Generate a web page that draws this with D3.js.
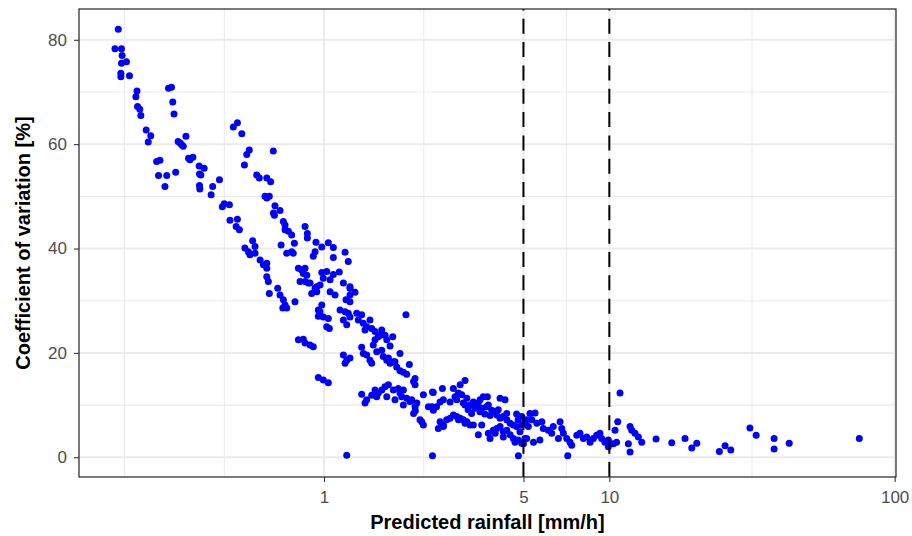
<!DOCTYPE html>
<html>
<head>
<meta charset="utf-8">
<script src="https://cdn.jsdelivr.net/npm/d3@7"></script>
<style>
  body { margin: 0; background: #fff; }
  svg text { font-family: "Liberation Sans", Arial, Helvetica, sans-serif; }
</style>
</head>
<body>
<div id="chart"></div>
<script>
const w = 912, h = 536;
const m = {l: 79, r: 16, t: 9, b: 59};

// [predicted rainfall (mm/h), coefficient of variation (%)]
const below07 = [
  [0.19,82.0],[0.185,78.3],[0.195,78.3],[0.196,77.0],[0.195,75.5],[0.203,75.8],[0.194,73.6],[0.194,72.9],
  [0.208,73.1],[0.221,70.2],[0.219,69.1],[0.222,67.2],[0.226,66.7],[0.228,65.5],[0.238,62.7],[0.247,61.6],
  [0.242,60.4],[0.285,70.7],[0.292,70.9],[0.295,68.1],[0.298,65.8],[0.308,60.5],[0.317,59.9],[0.328,61.5],
  [0.321,59.6],[0.313,60.2],[0.259,56.7],[0.266,56.9],[0.263,54.0],[0.281,54.0],[0.277,51.9],[0.302,54.6],
  [0.339,57.0],[0.347,57.5],[0.335,57.3],[0.365,55.8],[0.380,55.4],[0.366,54.3],[0.370,54.1],[0.366,52.1],
  [0.367,51.4],[0.407,51.9],[0.430,53.2],[0.402,50.3],[0.481,63.3],[0.497,64.1],[0.515,62.0],[0.547,58.9],
  [0.536,58.0],[0.526,56.0],[0.581,54.1],[0.664,58.7],[0.447,48.6],[0.466,48.4],[0.44,48.0],[0.468,45.4],
  [0.497,45.6],[0.492,44.2],[0.505,43.6],[0.528,40.1],[0.573,40.4],[0.562,41.5],[0.593,53.5],[0.630,53.5],
  [0.650,52.8],[0.621,50.0],[0.643,50.0],[0.63,49.7],[0.673,48.2],[0.701,47.3],[0.665,46.8],[0.670,46.4],
  [0.543,39.4],[0.573,39.1],[0.550,38.8],[0.597,37.8],[0.613,36.9],[0.630,37.2],[0.63,36.2],[0.63,34.6],
  [0.638,33.7],[0.643,31.4],[0.688,32.4],[0.701,31.1],[0.720,30.2],[0.730,29.2],[0.740,28.6],[0.717,28.6]
];
const from07to1 = [
  [0.720,45.2],[0.730,44.5],[0.730,43.6],[0.75,43.3],[0.77,42.6],[0.707,40.7],[0.787,41.0],[0.858,44.2],
  [0.874,42.9],[0.874,42.0],[0.937,41.2],[0.791,29.8],[0.740,39.1],[0.770,39.4],[0.780,39.1],[0.813,36.2],
  [0.835,35.9],[0.858,36.2],[0.846,35.2],[0.870,34.9],[0.824,33.7],[0.858,33.7],[0.881,33.4],[0.893,33.4],
  [0.917,38.5],[0.930,39.4],[0.905,31.4],[0.930,32.4],[0.955,28.2],[0.955,27.0],[0.813,22.5],[0.846,22.6],
  [0.858,21.9],[0.893,21.5],[0.917,21.2],[0.955,15.3],[0.982,40.3],[0.982,35.4],[0.968,33.0],[0.943,32.7],
  [0.994,34.3],[0.943,31.7],[0.982,29.2],[0.968,27.9],[0.994,26.9],[0.994,14.8]
];
const from1to2 = [
  [1.035,41.1],[1.078,40.2],[1.185,39.3],[1.078,38.3],[1.216,37.5],[1.022,35.6],[1.078,35.0],[1.131,35.5],
  [1.05,34.0],[1.169,33.4],[1.233,32.7],[1.233,32.4],[1.284,31.6],[1.233,31.1],[1.194,30.2],[1.233,29.8],
  [1.05,31.7],[1.093,31.1],[1.035,26.6],[1.022,25.0],[1.044,24.7],[1.138,28.2],[1.185,27.9],[1.216,27.6],
  [1.169,26.3],[1.201,25.4],[1.233,26.9],[1.302,27.6],[1.355,27.3],[1.449,26.3],[1.373,25.7],[1.411,25.0],
  [1.469,24.7],[1.593,24.4],[1.549,23.1],[1.509,22.5],[1.571,23.4],[1.741,23.1],[1.704,21.3],[1.937,27.3],
  [1.035,14.3],[1.355,21.1],[1.373,19.9],[1.411,19.6],[1.449,18.6],[1.469,18.0],[1.530,20.2],[1.593,20.5],
  [1.613,19.3],[1.659,18.6],[1.704,18.0],[1.750,18.3],[1.797,17.3],[1.846,16.6],[1.897,16.3],[1.949,15.9],
  [1.991,17.8],[1.169,19.6],[1.201,18.6],[1.233,19.0],[1.185,18.0],[1.681,19.0],[1.201,0.4],[1.355,12.1],
  [1.411,11.0],[1.392,10.4],[1.509,12.9],[1.549,12.3],[1.530,11.6],[1.636,13.5],[1.681,13.9],[1.750,12.9],
  [1.821,13.2],[1.846,12.3],[1.872,11.6],[1.949,11.3],[1.659,11.6],[1.773,11.0],[1.897,10.0],
  [1.319,26.3],[1.392,24.4],[1.509,24.1],[1.636,23.4],[1.488,21.5],[1.659,22.5],[1.846,19.9],[1.773,18.3],
  [1.593,12.9],[1.897,12.9],[1.469,11.9]
];
const from2to5 = [
  [2.0,10.7],[2.085,9.7],[2.114,10.4],[2.229,12.0],[2.321,9.7],[2.415,12.4],[2.479,9.7],[2.40,0.3],
  [4.8,0.3],[2.2,6.8],[2.23,6.2],[2.17,7.2],[2.06,8.4],[2.09,8.9],[2.06,14.5],[2.085,13.9],[2.085,15.1],
  [2.40,12.5],[2.60,13.2],[2.84,13.2],[3.0,13.9],[3.12,14.7],[2.386,9.7],[2.416,9.0],[2.551,10.6],
  [2.619,11.0],[2.765,10.6],[2.878,11.6],[2.918,11.0],[3.038,12.0],[3.077,10.4],[3.165,11.3],[3.249,10.0],
  [3.336,10.6],[3.43,9.7],[3.523,11.0],[3.615,11.6],[3.736,11.6],[3.766,10.0],[3.87,9.0],[3.818,8.0],
  [4.31,11.0],[4.73,8.3],[4.79,7.2],[3.52,8.7],[3.66,8.3],[2.551,6.8],[2.515,5.5],[2.619,6.2],[2.69,7.2],
  [2.765,7.5],[2.84,8.1],[2.918,7.8],[3.0,7.5],[3.077,7.2],[3.165,6.8],[3.249,6.2],[3.336,6.2],[3.474,4.3],
  [3.57,6.2],[3.766,4.6],[3.818,3.6],[3.92,5.2],[4.03,5.5],[4.14,5.9],[4.25,4.9],[4.37,5.2],[4.49,4.3],
  [4.61,3.6],[4.67,2.9],[4.79,3.3],[4.93,2.7],[4.14,11.3],[4.08,9.1],[4.37,8.4],[2.03,11.0],
  [2.957,12.3],[3.12,10.0],[3.20,9.1],[3.29,8.4],[3.38,9.4],[3.47,10.4],[3.57,9.4],[3.71,9.7],[3.92,8.7],
  [4.03,8.1],[4.14,7.5],[4.25,7.8],[4.37,7.2],[4.49,6.5],[4.61,6.2],[4.73,5.9],[4.93,6.2],[4.86,4.9],
  [2.62,5.9],[2.96,7.2],[3.12,6.5],[3.98,4.6],[4.25,3.9]
];
const from5to10 = [
  [5.06,3.6],[5.13,7.2],[5.27,8.4],[5.49,8.5],[4.93,7.8],[5.06,6.8],[5.2,5.9],[5.35,7.2],[5.57,6.5],
  [5.8,6.8],[5.87,5.5],[6.11,5.2],[6.36,5.9],[6.28,4.6],[6.72,6.8],[6.81,5.5],[6.9,4.6],[6.63,3.6],
  [7.09,3.6],[7.28,2.9],[7.38,2.3],[7.69,4.2],[7.89,4.6],[8.11,3.6],[8.33,3.9],[8.56,2.9],[8.79,3.6],
  [9.03,4.2],[9.27,4.6],[9.4,3.6],[9.65,2.9],[9.92,3.3],[9.92,2.0],[7.15,0.3],[5.13,3.6],[5.42,2.9],
  [5.71,3.3],[5.0,2.6]
];
const above10 = [
  [10.33,2.6],[10.6,2.9],[10.47,5.2],[10.7,6.8],[10.9,12.3],[11.82,5.9],[11.98,5.2],[12.3,4.6],[12.64,3.9],
  [12.99,2.9],[11.66,2.6],[11.82,1.0],[14.58,3.5],[16.55,2.8],[18.42,3.6],[19.45,1.8],[20.25,2.7],
  [24.3,1.1],[25.45,2.2],[26.65,1.4],[31.1,5.6],[32.7,4.2],[37.8,3.6],[37.8,1.6],[42.7,2.7],[75.2,3.6]
];

const xBreaks = [1, 5, 10, 100];
const yBreaks = [0, 20, 40, 60, 80];
const yMinor = [10, 30, 50, 70];
const thresholds = [5, 10];

const points = [...below07, ...from07to1, ...from1to2, ...from2to5, ...from5to10, ...above10];

const svg = d3.select("#chart").append("svg").attr("width", w).attr("height", h);

const x = d3.scaleLog().domain([0.1384, 101.1]).range([m.l, w - m.r]);
const y = d3.scaleLinear().domain([-3.78, 85.9]).range([h - m.b, m.t]);

// minor x breaks sit half way (in log space) between the breaks, one extra break below
const xExt = [xBreaks[0] * xBreaks[0] / xBreaks[1], ...xBreaks];
const xMinor = d3.range(xExt.length - 1).map(i => Math.sqrt(xExt[i] * xExt[i + 1]));

const grid = svg.append("g");
grid.selectAll(".xmin").data([xExt[0], ...xMinor]).join("line")
  .attr("x1", d => x(d)).attr("x2", d => x(d))
  .attr("y1", m.t).attr("y2", h - m.b)
  .attr("stroke", "#ebebeb").attr("stroke-width", 1.1);
grid.selectAll(".ymin").data(yMinor).join("line")
  .attr("x1", m.l).attr("x2", w - m.r)
  .attr("y1", d => y(d)).attr("y2", d => y(d))
  .attr("stroke", "#ebebeb").attr("stroke-width", 1.1);
grid.selectAll(".xmaj").data(xBreaks).join("line")
  .attr("x1", d => x(d)).attr("x2", d => x(d))
  .attr("y1", m.t).attr("y2", h - m.b)
  .attr("stroke", "#ebebeb").attr("stroke-width", 2);
grid.selectAll(".ymaj").data(yBreaks).join("line")
  .attr("x1", m.l).attr("x2", w - m.r)
  .attr("y1", d => y(d)).attr("y2", d => y(d))
  .attr("stroke", "#ebebeb").attr("stroke-width", 2);

svg.append("g").selectAll("circle")
  .data(points)
  .join("circle")
    .attr("cx", d => x(d[0]))
    .attr("cy", d => y(d[1]))
    .attr("r", 3.5)
    .attr("fill", "#0000ff");

// dashes start at the bottom of the panel, like grid does
svg.append("g").selectAll("line")
  .data(thresholds)
  .join("line")
    .attr("x1", d => x(d)).attr("x2", d => x(d))
    .attr("y1", h - m.b).attr("y2", m.t)
    .attr("stroke", "#000")
    .attr("stroke-width", 2)
    .attr("stroke-dasharray", "15,8.33");

svg.append("rect")
  .attr("x", m.l).attr("y", m.t)
  .attr("width", w - m.l - m.r).attr("height", h - m.t - m.b)
  .attr("fill", "none").attr("stroke", "#333333").attr("stroke-width", 1.3);

const xAxis = svg.append("g")
  .attr("transform", `translate(0,${h - m.b})`)
  .call(d3.axisBottom(x).tickValues(xBreaks).tickFormat(d3.format("d")).tickSize(5).tickPadding(9));
const yAxis = svg.append("g")
  .attr("transform", `translate(${m.l},0)`)
  .call(d3.axisLeft(y).tickValues(yBreaks).tickSize(5).tickPadding(7));

[xAxis, yAxis].forEach(a => {
  a.select(".domain").remove();
  a.selectAll(".tick line").attr("stroke", "#333333").attr("stroke-width", 1.1);
  a.selectAll(".tick text")
    .attr("fill", "#4d4d4d")
    .style("font-size", "17px")
    .style("font-family", "'Liberation Sans', Arial, Helvetica, sans-serif");
});

svg.append("text")
  .attr("x", (m.l + w - m.r) / 2)
  .attr("y", 529)
  .attr("text-anchor", "middle")
  .style("font-size", "20px")
  .style("font-weight", "bold")
  .text("Predicted rainfall [mm/h]");

svg.append("text")
  .attr("transform", `translate(30,${(m.t + h - m.b) / 2}) rotate(-90)`)
  .attr("text-anchor", "middle")
  .style("font-size", "20px")
  .style("font-weight", "bold")
  .text("Coefficient of variation [%]");
</script>
</body>
</html>
